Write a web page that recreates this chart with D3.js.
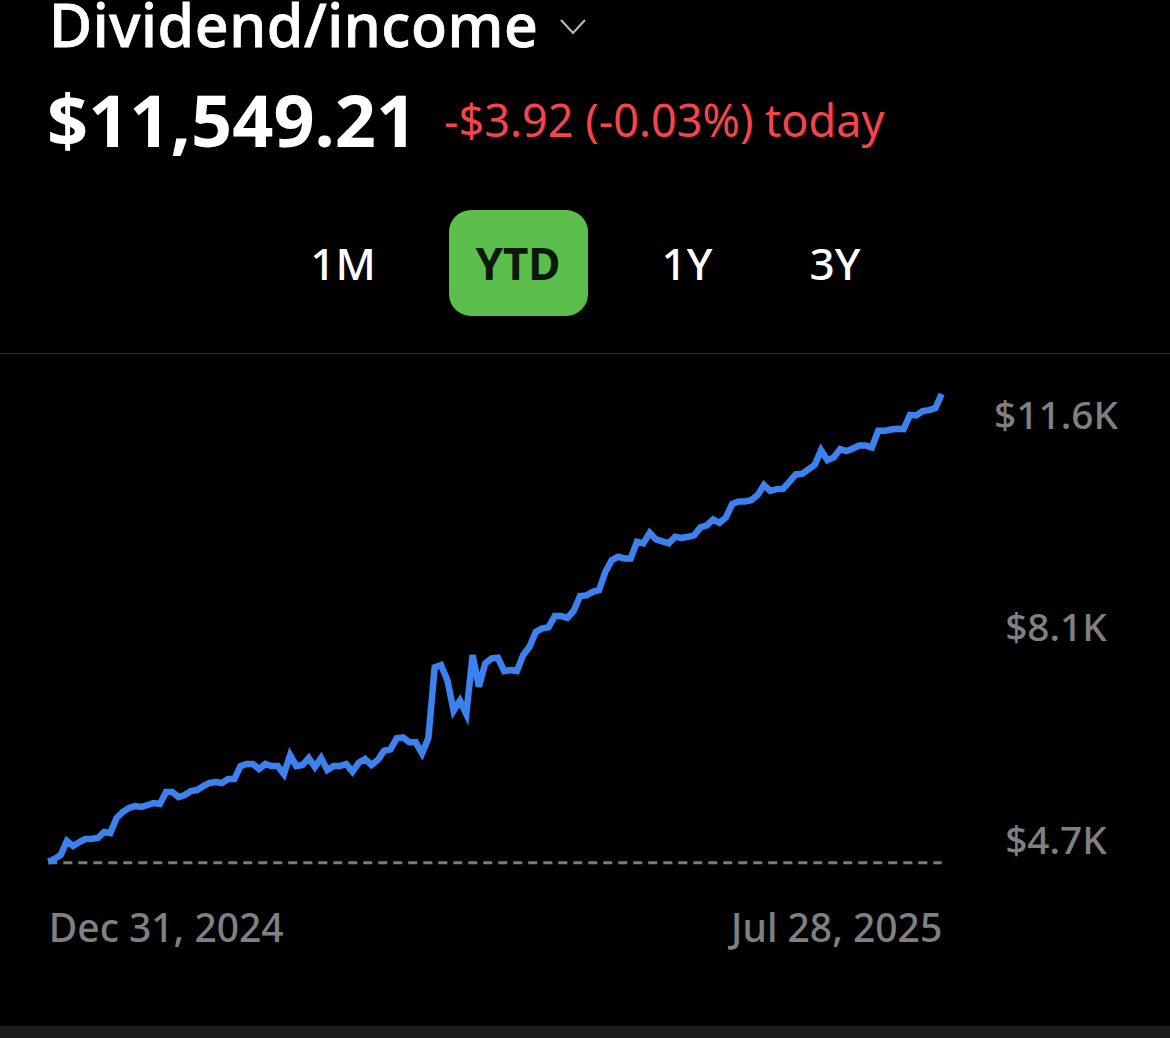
<!DOCTYPE html>
<html>
<head>
<meta charset="utf-8">
<script src="https://cdn.jsdelivr.net/npm/d3@7"></script>
<style>
  html, body { margin: 0; background: #000; overflow: hidden; }
  text { font-family: "Noto Sans", sans-serif; }
  .axis path, .axis line { display: none; }
</style>
</head>
<body>
<div id="graph-holder"></div>
<script>
// balance readings, one per trading day
const balance = [
  4704, 4744, 4802, 5007, 4934, 4993, 5036, 5041, 5051, 5139, 5124, 5344, 5432, 5490, 5519, 5505,
  5534, 5563, 5549, 5724, 5724, 5651, 5680, 5739, 5753, 5812, 5856, 5870, 5856, 5914, 5914, 6104,
  6134, 6134, 6061, 6134, 6104, 6104, 5987, 6265, 6104, 6119, 6222, 6090, 6222, 6046, 6104, 6104,
  6134, 6021, 6153, 6207, 6119, 6192, 6328, 6349, 6510, 6524, 6451, 6451, 6290, 6510, 7548, 7582,
  7363, 6914, 7060, 6865, 7728, 7265, 7607, 7680, 7689, 7494, 7509, 7494, 7728, 7850, 8069, 8119,
  8134, 8299, 8299, 8274, 8377, 8592, 8602, 8654, 8679, 8947, 9118, 9167, 9143, 9143, 9386, 9363,
  9518, 9421, 9392, 9363, 9459, 9444, 9459, 9480, 9597, 9626, 9714, 9664, 9743, 9938, 9977, 9977,
  9996, 10069, 10216, 10132, 10157, 10161, 10264, 10372, 10381, 10445, 10513, 10728, 10581, 10621,
  10742, 10713, 10752, 10796, 10796, 10767, 11010, 11010, 11030, 11039, 11035, 11244, 11235, 11298,
  11313, 11342, 11549
];
const baselineValue = 4690;
const yTicks = [4700, 8150, 11600];
const yTickLabels = ["$4.7K", "$8.1K", "$11.6K"];
const dateLabels = ["Dec 31, 2024", "Jul 28, 2025"];
const ranges = ["1M", "YTD", "1Y", "3Y"];
const selectedRange = "YTD";
const rangeCenters = [343, 518, 687, 835];

const width = 1170, height = 1038;

const svg = d3
  .select("#graph-holder")
  .append("svg")
  .attr("width", width)
  .attr("height", height)
  .style("display", "block");

// point spacing is not quite even across the chart, hence the extra stops
var x = d3.scaleLinear().domain([0, 46, 94, 142]).range([48.3, 333.5, 637, 941.7]);
var y = d3.scaleLinear().domain([4700, 11549]).range([862, 394]);
// the app prints its axis labels inside the plot, not at the value they name
var yLabel = d3.scaleLinear().domain([4700, 11600]).range([841, 416]);

// header
svg.append("text").attr("x", 49).attr("y", 47)
  .attr("font-size", 59).attr("font-weight", 500).attr("fill", "#fff")
  .attr("stroke", "#fff").attr("stroke-width", 0.8)
  .attr("letter-spacing", 0.6)
  .text("Dividend/income");

svg.append("path")
  .attr("d", d3.line()([[561, 20], [573, 33], [585, 20]]))
  .attr("fill", "none").attr("stroke", "#b5b5b5").attr("stroke-width", 2.2);

svg.append("text").attr("x", 47).attr("y", 147)
  .attr("font-size", 72).attr("font-weight", 700).attr("fill", "#fff")
  .text("$11,549.21");

svg.append("text").attr("x", 444).attr("y", 137)
  .attr("font-size", 45).attr("fill", "#f6444a")
  .text("-$3.92 (-0.03%) today");

// range selector
svg.append("rect")
  .attr("x", 449).attr("y", 210).attr("width", 139).attr("height", 106)
  .attr("rx", 22).attr("fill", "#5cbf4b");

svg.selectAll(".range")
  .data(ranges)
  .enter()
  .append("text")
  .attr("class", "range")
  .attr("x", (d, i) => rangeCenters[i])
  .attr("y", 280)
  .attr("text-anchor", "middle")
  .attr("font-size", 44)
  .attr("font-weight", (d) => (d === selectedRange ? 700 : 500))
  .attr("fill", (d) => (d === selectedRange ? "#0b1a08" : "#fff"))
  .text((d) => d);

svg.append("line")
  .attr("x1", 0).attr("x2", width).attr("y1", 353.5).attr("y2", 353.5)
  .attr("stroke", "#2e2e2e").attr("stroke-width", 1);

// baseline at the start of the period
svg.append("line")
  .attr("x1", x(0)).attr("x2", x(balance.length - 1))
  .attr("y1", y(baselineValue)).attr("y2", y(baselineValue))
  .attr("stroke", "#7a7a7a").attr("stroke-width", 3)
  .attr("stroke-dasharray", "9 6");

const line = d3.line().x((d, i) => x(i)).y((d) => y(d));

svg.append("path")
  .datum(balance)
  .attr("d", line)
  .attr("fill", "none")
  .attr("stroke", "#3b82f0")
  .attr("stroke-width", 6.5)
  .attr("stroke-linejoin", "miter");

// axes
const yAxis = d3.axisRight(yLabel)
  .tickValues(yTicks)
  .tickFormat((d, i) => yTickLabels[i])
  .tickSize(0);

const yAxisG = svg.append("g")
  .attr("class", "axis")
  .attr("transform", "translate(1056, 0)")
  .call(yAxis);

yAxisG.selectAll("text")
  .attr("x", 0)
  .attr("text-anchor", "middle")
  .attr("font-size", 38.8)
  .attr("font-weight", 500)
  .attr("fill", "#808080")
  .style("font-family", '"Noto Sans", sans-serif');

const xAxis = d3.axisBottom(x)
  .tickValues([0, balance.length - 1])
  .tickFormat((d, i) => dateLabels[i])
  .tickSize(0);

const xAxisG = svg.append("g")
  .attr("class", "axis")
  .attr("transform", "translate(0, 914)")
  .call(xAxis);

xAxisG.selectAll("text")
  .attr("y", 0)
  .attr("dy", "0.71em")
  .attr("font-size", 39)
  .attr("font-weight", 500)
  .attr("fill", "#808080")
  .style("font-family", '"Noto Sans", sans-serif')
  .attr("text-anchor", (d, i) => (i === 0 ? "start" : "end"));

// bottom edge of the screenshot
svg.append("rect")
  .attr("x", 0).attr("y", 1026).attr("width", width).attr("height", 12)
  .attr("fill", "#1c1c1e");
</script>
</body>
</html>
